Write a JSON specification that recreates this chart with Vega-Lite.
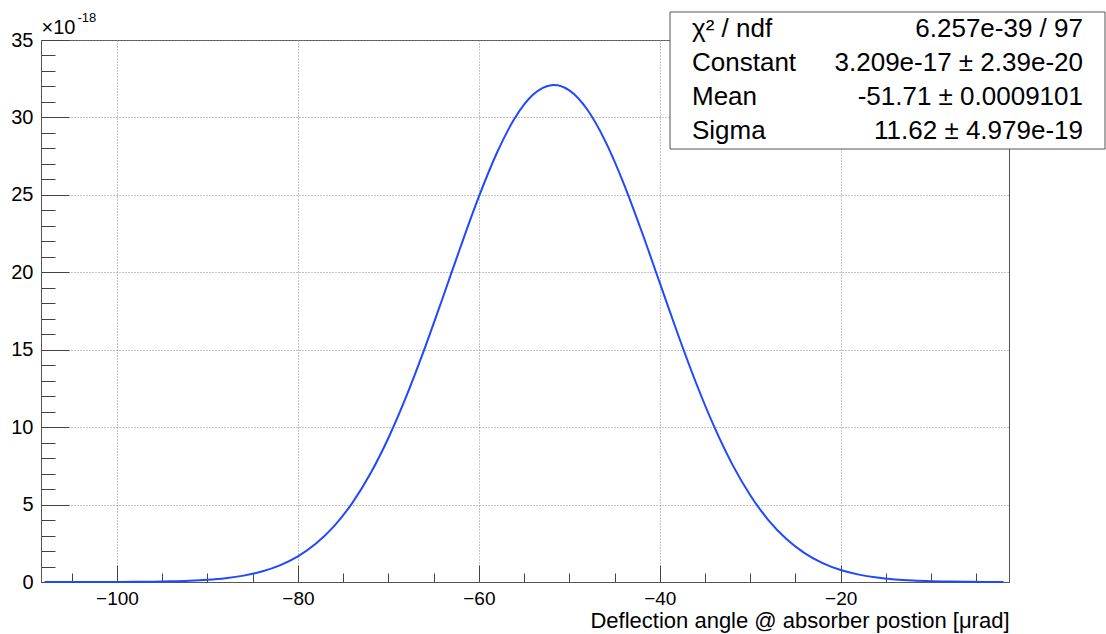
{
  "$schema": "https://vega.github.io/schema/vega-lite/v6.json",
  "width": 968,
  "height": 542,
  "autosize": {"type": "none"},
  "padding": {"left": 41, "top": 40, "right": 97, "bottom": 52},
  "background": "white",
  "config": {
    "font": "Liberation Sans",
    "view": {"stroke": "#555", "strokeWidth": 1}
  },
  "datasets": {
    "curve": [
      {"x": -108, "y": 0.0003}, {"x": -106, "y": 0.0006}, {"x": -104, "y": 0.0013},
      {"x": -102, "y": 0.0028}, {"x": -100, "y": 0.0057}, {"x": -98, "y": 0.0115},
      {"x": -96, "y": 0.0225}, {"x": -94, "y": 0.0427}, {"x": -92, "y": 0.0787},
      {"x": -90, "y": 0.1408}, {"x": -88, "y": 0.2445}, {"x": -86, "y": 0.4125},
      {"x": -84, "y": 0.6753}, {"x": -82, "y": 1.0741}, {"x": -80, "y": 1.657},
      {"x": -78, "y": 2.482}, {"x": -76, "y": 3.61}, {"x": -74, "y": 5.097},
      {"x": -72, "y": 6.986}, {"x": -70, "y": 9.297}, {"x": -68, "y": 12.012},
      {"x": -66, "y": 15.065}, {"x": -64, "y": 18.342}, {"x": -62, "y": 21.681},
      {"x": -60, "y": 24.88}, {"x": -58, "y": 27.717}, {"x": -56, "y": 29.976},
      {"x": -54, "y": 31.473}, {"x": -52, "y": 32.08}, {"x": -51.71, "y": 32.09},
      {"x": -50, "y": 31.744}, {"x": -48, "y": 30.495}, {"x": -46, "y": 28.44},
      {"x": -44, "y": 25.749}, {"x": -42, "y": 22.632}, {"x": -40, "y": 19.313},
      {"x": -38, "y": 15.999}, {"x": -36, "y": 12.867}, {"x": -34, "y": 10.045},
      {"x": -32, "y": 7.614}, {"x": -30, "y": 5.602}, {"x": -28, "y": 4.002},
      {"x": -26, "y": 2.776}, {"x": -24, "y": 1.869}, {"x": -22, "y": 1.221},
      {"x": -20, "y": 0.775}, {"x": -18, "y": 0.477}, {"x": -16, "y": 0.2855},
      {"x": -14, "y": 0.1657}, {"x": -12, "y": 0.0934}, {"x": -10, "y": 0.0511},
      {"x": -8, "y": 0.0272}, {"x": -6, "y": 0.014}, {"x": -4, "y": 0.007},
      {"x": -2, "y": 0.0034}
    ],
    "stats": [
      {"name": "χ² / ndf", "value": "6.257e-39 / 97"},
      {"name": "Constant", "value": "3.209e-17 ± 2.39e-20"},
      {"name": "Mean", "value": "-51.71 ± 0.0009101"},
      {"name": "Sigma", "value": "11.62 ± 4.979e-19"}
    ]
  },
  "layer": [
    {
      "data": {"name": "curve"},
      "mark": {"type": "line", "color": "#2048ff", "strokeWidth": 2, "interpolate": "monotone"},
      "encoding": {
        "x": {
          "field": "x", "type": "quantitative",
          "scale": {"domain": [-108.4, -1.4], "nice": false, "zero": false},
          "axis": {
            "orient": "bottom",
            "values": [-100, -80, -60, -40, -20],
            "grid": true, "gridColor": "#888", "gridDash": [1, 2], "gridWidth": 1,
            "tickSize": -17, "tickColor": "#444", "tickWidth": 1,
            "domainColor": "#555", "domainWidth": 1,
            "labelFontSize": 19, "labelColor": "#000", "labelPadding": 24,
            "labelFlush": false, "labelOverlap": false,
            "title": "Deflection angle @ absorber postion [μrad]",
            "titleFontSize": 22, "titleFontWeight": "normal", "titleColor": "#000",
            "titleAnchor": "end", "titleAlign": "right", "titleBaseline": "alphabetic",
            "titleX": 968, "titleY": 45
          }
        },
        "y": {
          "field": "y", "type": "quantitative",
          "scale": {"domain": [0, 35], "nice": false, "zero": false},
          "axis": {
            "orient": "left",
            "values": [0, 5, 10, 15, 20, 25, 30, 35],
            "grid": true, "gridColor": "#888", "gridDash": [1, 2], "gridWidth": 1,
            "tickSize": -28, "tickColor": "#444", "tickWidth": 1,
            "domainColor": "#555", "domainWidth": 1,
            "labelFontSize": 20, "labelColor": "#000", "labelPadding": 36,
            "labelFlush": false, "labelOverlap": false,
            "title": "×10",
            "titleFontSize": 20, "titleFontWeight": "normal", "titleColor": "#000",
            "titleAngle": 0, "titleAlign": "left", "titleBaseline": "alphabetic",
            "titleX": 0, "titleY": -7
          }
        }
      }
    },
    {
      "data": {"name": "curve"},
      "mark": {"type": "line", "strokeOpacity": 0},
      "encoding": {
        "x": {
          "field": "x", "type": "quantitative",
          "scale": {"domain": [-108.4, -1.4], "nice": false, "zero": false},
          "axis": {
            "orient": "bottom",
            "values": [-105, -95, -90, -85, -75, -70, -65, -55, -50, -45, -35, -30, -25, -15, -10, -5],
            "grid": false, "domain": false, "labels": false,
            "tickSize": -9, "tickColor": "#444", "tickWidth": 1,
            "title": null
          }
        },
        "y": {
          "field": "y", "type": "quantitative",
          "scale": {"domain": [0, 35], "nice": false, "zero": false},
          "axis": {
            "orient": "left",
            "values": [1, 2, 3, 4, 6, 7, 8, 9, 11, 12, 13, 14, 16, 17, 18, 19, 21, 22, 23, 24, 26, 27, 28, 29, 31, 32, 33, 34],
            "grid": false, "domain": false, "labels": false,
            "tickSize": -14, "tickColor": "#444", "tickWidth": 1,
            "title": "-18",
            "titleFontSize": 13, "titleFontWeight": "normal", "titleColor": "#000",
            "titleAngle": 0, "titleAlign": "left", "titleBaseline": "alphabetic",
            "titleX": 36, "titleY": -19
          }
        }
      }
    },
    {
      "data": {"values": [{}]},
      "mark": {"type": "rect", "fill": "white", "stroke": "#555", "strokeWidth": 1},
      "encoding": {
        "x": {"datum": -38.87, "type": "quantitative", "scale": {"domain": [-108.4, -1.4], "nice": false, "zero": false}, "axis": null},
        "x2": {"datum": 9.21},
        "y": {"datum": 36.81, "type": "quantitative", "scale": {"domain": [0, 35], "nice": false, "zero": false}, "axis": null},
        "y2": {"datum": 27.96}
      }
    },
    {
      "data": {"name": "stats"},
      "mark": {"type": "text", "align": "left", "baseline": "middle", "fontSize": 26, "color": "#000"},
      "encoding": {
        "x": {"datum": -36.44, "type": "quantitative", "scale": {"domain": [-108.4, -1.4], "nice": false, "zero": false}, "axis": null},
        "y": {"field": "name", "type": "nominal", "scale": {"type": "point", "domain": ["χ² / ndf", "Constant", "Mean", "Sigma"], "range": [-28, 108], "padding": 0.5}, "axis": null},
        "text": {"field": "name"}
      }
    },
    {
      "data": {"name": "stats"},
      "mark": {"type": "text", "align": "right", "baseline": "middle", "fontSize": 26, "color": "#000"},
      "encoding": {
        "x": {"datum": 6.78, "type": "quantitative", "scale": {"domain": [-108.4, -1.4], "nice": false, "zero": false}, "axis": null},
        "y": {"field": "name", "type": "nominal", "scale": {"type": "point", "domain": ["χ² / ndf", "Constant", "Mean", "Sigma"], "range": [-28, 108], "padding": 0.5}, "axis": null},
        "text": {"field": "value"}
      }
    }
  ],
  "resolve": {
    "scale": {"y": "independent"},
    "axis": {"x": "independent", "y": "independent"}
  }
}
